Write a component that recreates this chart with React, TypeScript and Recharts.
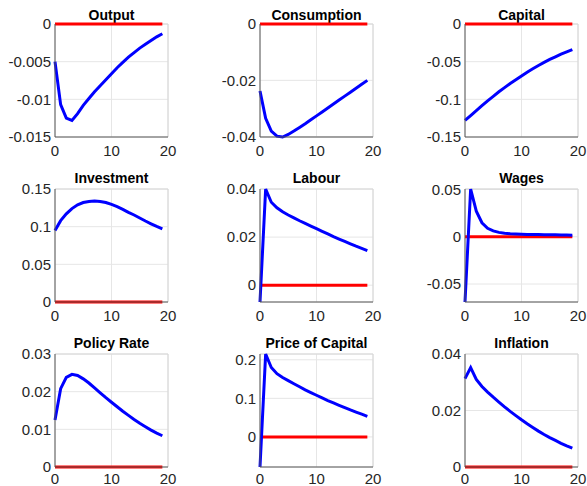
import React from "react";
import { LineChart, Line, XAxis, YAxis, CartesianGrid, ReferenceLine } from "recharts";

const periods = [0, 1, 2, 3, 4, 5, 6, 7, 8, 9, 10, 11, 12, 13, 14, 15, 16, 17, 18, 19];
const steadyState = [0, 0, 0, 0, 0, 0, 0, 0, 0, 0, 0, 0, 0, 0, 0, 0, 0, 0, 0, 0];

const output = [-0.005, -0.0107, -0.0125, -0.0128, -0.0119, -0.0108, -0.0099, -0.009, -0.0082, -0.0074, -0.0066, -0.0058, -0.0051, -0.0044, -0.0038, -0.0032, -0.0027, -0.0022, -0.0017, -0.0013];
const consumption = [-0.0238, -0.0335, -0.038, -0.0398, -0.0401, -0.0392, -0.038, -0.0367, -0.0354, -0.034, -0.0326, -0.0312, -0.0298, -0.0284, -0.027, -0.0256, -0.0242, -0.0228, -0.0214, -0.02];
const capital = [-0.128, -0.1215, -0.115, -0.1085, -0.102, -0.096, -0.09, -0.0845, -0.079, -0.074, -0.069, -0.064, -0.0595, -0.055, -0.051, -0.047, -0.0435, -0.04, -0.037, -0.034];
const investment = [0.095, 0.108, 0.117, 0.124, 0.129, 0.132, 0.1335, 0.134, 0.1335, 0.132, 0.1295, 0.1265, 0.123, 0.119, 0.1155, 0.1115, 0.1075, 0.1038, 0.1003, 0.097];
const labour = [-0.007, 0.04, 0.0345, 0.0322, 0.0305, 0.0292, 0.028, 0.0268, 0.0257, 0.0246, 0.0235, 0.0224, 0.0213, 0.0202, 0.0192, 0.0182, 0.0172, 0.0162, 0.0153, 0.0144];
const wages = [-0.069, 0.0505, 0.027, 0.0148, 0.009, 0.0062, 0.0046, 0.0037, 0.0031, 0.0028, 0.0026, 0.0025, 0.0024, 0.0023, 0.0022, 0.0021, 0.002, 0.0019, 0.0018, 0.0017];
const policyRate = [0.0125, 0.0208, 0.0238, 0.0246, 0.0243, 0.0234, 0.0223, 0.021, 0.0197, 0.0184, 0.0172, 0.016, 0.0148, 0.0137, 0.0126, 0.0116, 0.0107, 0.0098, 0.009, 0.0083];
const priceOfCapital = [-0.078, 0.215, 0.18, 0.164, 0.154, 0.146, 0.138, 0.13, 0.122, 0.115, 0.108, 0.101, 0.094, 0.088, 0.082, 0.076, 0.07, 0.0645, 0.059, 0.0535];
const inflation = [0.0313, 0.0352, 0.031, 0.0285, 0.0265, 0.0247, 0.023, 0.0213, 0.0197, 0.0182, 0.0167, 0.0153, 0.014, 0.0127, 0.0115, 0.0104, 0.0094, 0.0084, 0.0075, 0.0067];

const xTicks = [0, 10, 20];

type Panel = { title: string; values: number[]; domain: [number, number]; ticks: number[] };

const panels: Panel[] = [
  { title: "Output", values: output, domain: [-0.015, 0], ticks: [-0.015, -0.01, -0.005, 0] },
  { title: "Consumption", values: consumption, domain: [-0.04, 0], ticks: [-0.04, -0.02, 0] },
  { title: "Capital", values: capital, domain: [-0.15, 0], ticks: [-0.15, -0.1, -0.05, 0] },
  { title: "Investment", values: investment, domain: [0, 0.15], ticks: [0, 0.05, 0.1, 0.15] },
  { title: "Labour", values: labour, domain: [-0.007, 0.04], ticks: [0, 0.02, 0.04] },
  { title: "Wages", values: wages, domain: [-0.069, 0.0505], ticks: [-0.05, 0, 0.05] },
  { title: "Policy Rate", values: policyRate, domain: [0, 0.03], ticks: [0, 0.01, 0.02, 0.03] },
  { title: "Price of Capital", values: priceOfCapital, domain: [-0.078, 0.215], ticks: [0, 0.1, 0.2] },
  { title: "Inflation", values: inflation, domain: [0, 0.04], ticks: [0, 0.02, 0.04] },
];

const plotLefts = [55, 260, 465];
const plotTops = [24, 189, 354];
const titleBaselines = [19.5, 183, 347.5];
const xTickMargins = [8, 8, 6];
const PLOT_W = 113;
const PLOT_H = 113;
const Y_W = 55;
const RIGHT = 9;
const TOP = 24;
const X_H = 30;

const font = "'Liberation Sans', Arial, Helvetica, sans-serif";
const tickStyle = { fontSize: 15, fill: "#262626", fontFamily: font };

export default function App() {
  return (
    <div style={{ position: "absolute", left: 0, top: 0, width: 587, height: 486, background: "#fff", overflow: "hidden" }}>
      {panels.map((p, i) => {
        const col = i % 3;
        const row = Math.floor(i / 3);
        const left = plotLefts[col] - Y_W;
        const top = plotTops[row] - TOP;
        const data = periods.map((t, k) => ({ t, irf: p.values[k], ss: steadyState[k] }));
        return (
          <React.Fragment key={p.title}>
            <div
              style={{
                position: "absolute",
                left: plotLefts[col],
                width: PLOT_W,
                top: titleBaselines[row] - 11.9,
                lineHeight: "14px",
                fontSize: 14,
                fontWeight: "bold",
                fontFamily: font,
                color: "#000",
                textAlign: "center",
                whiteSpace: "nowrap",
              }}
            >
              {p.title}
            </div>
            <div style={{ position: "absolute", left, top }}>
              <LineChart
                width={Y_W + PLOT_W + RIGHT}
                height={TOP + PLOT_H + X_H}
                data={data}
                margin={{ top: TOP, right: RIGHT, bottom: 0, left: 0 }}
              >
                <CartesianGrid stroke="#e6e6e6" strokeWidth={1} />
                <ReferenceLine y={p.domain[1]} stroke="#d6d6d6" strokeWidth={1} ifOverflow="visible" />
                <ReferenceLine x={20} stroke="#d6d6d6" strokeWidth={1} ifOverflow="visible" />
                <XAxis
                  dataKey="t"
                  type="number"
                  domain={[0, 20]}
                  ticks={xTicks}
                  tick={tickStyle}
                  tickLine={false}
                  tickSize={0}
                  tickMargin={xTickMargins[row]}
                  axisLine={{ stroke: "#555", strokeWidth: 1 }}
                  height={X_H}
                  interval={0}
                />
                <YAxis
                  type="number"
                  domain={p.domain}
                  ticks={p.ticks}
                  tick={tickStyle}
                  tickLine={false}
                  tickSize={0}
                  tickMargin={4}
                  axisLine={{ stroke: "#555", strokeWidth: 1 }}
                  width={Y_W}
                  interval={0}
                  tickFormatter={(v: number) => String(v)}
                />
                <Line type="linear" dataKey="ss" stroke="#ff0000" strokeWidth={3} dot={false} isAnimationActive={false} />
                <Line type="linear" dataKey="irf" stroke="#0000ff" strokeWidth={3} dot={false} isAnimationActive={false} />
              </LineChart>
            </div>
          </React.Fragment>
        );
      })}
    </div>
  );
}
